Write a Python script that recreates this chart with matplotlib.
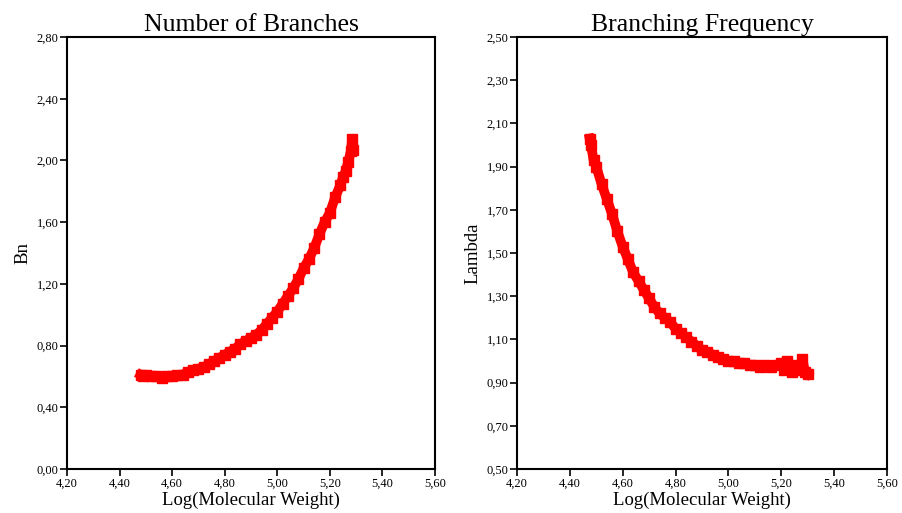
import matplotlib
matplotlib.use('Agg')
import matplotlib.pyplot as plt
from matplotlib.ticker import FuncFormatter, MultipleLocator

plt.rcParams['font.family'] = ['Liberation Serif', 'DejaVu Serif']

# Numero de ramas (Bn) vs Log(MW)
bn_x = [4.48, 4.49, 4.50, 4.52, 4.54, 4.56, 4.58, 4.60, 4.62, 4.64, 4.66, 4.68,
        4.70, 4.72, 4.74, 4.76, 4.78, 4.80, 4.82, 4.84, 4.86, 4.88, 4.90, 4.92,
        4.94, 4.96, 4.98, 5.00, 5.02, 5.04, 5.06, 5.08, 5.10, 5.12, 5.14, 5.16,
        5.18, 5.20, 5.22, 5.24, 5.25, 5.26, 5.27, 5.28, 5.285, 5.29]
bn_y = [0.61, 0.60, 0.61, 0.60, 0.60, 0.59, 0.60, 0.60, 0.61, 0.61, 0.63, 0.64,
        0.65, 0.66, 0.68, 0.70, 0.72, 0.74, 0.76, 0.78, 0.81, 0.83, 0.85, 0.87,
        0.90, 0.94, 0.98, 1.02, 1.07, 1.12, 1.17, 1.23, 1.30, 1.36, 1.43, 1.52,
        1.60, 1.66, 1.76, 1.84, 1.89, 1.93, 1.99, 2.06, 2.14, 2.07]

# Frecuencia de ramificacion (Lambda) vs Log(MW)
lam_x = [4.475, 4.48, 4.49, 4.50, 4.52, 4.54, 4.56, 4.58, 4.60, 4.62, 4.64, 4.66,
         4.68, 4.70, 4.72, 4.74, 4.76, 4.78, 4.80, 4.82, 4.84, 4.86, 4.88, 4.90,
         4.92, 4.94, 4.96, 4.98, 5.00, 5.02, 5.04, 5.06, 5.08, 5.10, 5.12, 5.14,
         5.16, 5.18, 5.20, 5.21, 5.22, 5.24, 5.26, 5.27, 5.28, 5.29, 5.30]
lam_y = [2.03, 2.00, 1.93, 1.90, 1.82, 1.75, 1.68, 1.60, 1.53, 1.47, 1.41, 1.37,
         1.33, 1.29, 1.25, 1.22, 1.20, 1.18, 1.15, 1.13, 1.11, 1.09, 1.07, 1.05,
         1.04, 1.03, 1.02, 1.01, 1.00, 1.00, 0.99, 0.99, 0.98, 0.98, 0.97, 0.98,
         0.97, 0.98, 0.99, 0.96, 1.00, 0.95, 0.98, 0.96, 1.01, 0.95, 0.94]

bn_ticks = [0.00, 0.40, 0.80, 1.20, 1.60, 2.00, 2.40, 2.80]
lam_ticks = [0.50, 0.70, 0.90, 1.10, 1.30, 1.50, 1.70, 1.90, 2.10, 2.30, 2.50]

coma = FuncFormatter(lambda v, p: f'{v:.2f}'.replace('.', ','))

fig = plt.figure(figsize=(9.03, 5.13), dpi=100)
ax1 = fig.add_axes([0.0742, 0.0858, 0.4075, 0.842])
ax2 = fig.add_axes([0.5725, 0.0858, 0.4097, 0.842])

paneles = [
    (ax1, bn_x, bn_y, 'Number of Branches', 'Bn', bn_ticks),
    (ax2, lam_x, lam_y, 'Branching Frequency', 'Lambda', lam_ticks),
]

for ax, x, y, titulo, ylab, yt in paneles:
    ax.plot(x, y, color='#ff0000', linewidth=7, marker='s', markersize=7,
            solid_joinstyle='round')
    ax.set_xlim(4.2, 5.6)
    ax.set_ylim(yt[0], yt[-1])
    ax.set_yticks(yt)
    ax.xaxis.set_major_locator(MultipleLocator(0.2))
    ax.xaxis.set_major_formatter(coma)
    ax.yaxis.set_major_formatter(coma)
    ax.tick_params(direction='out', length=5, width=1.2, labelsize=9, pad=1)
    for s in ax.spines.values():
        s.set_linewidth(1.5)
    ax.set_title(titulo, fontsize=18.5, pad=4)
    ax.set_xlabel('Log(Molecular Weight)', fontsize=13.5, labelpad=2)
    ax.set_ylabel(ylab, fontsize=13.5, labelpad=4)

fig.savefig('out.png', dpi=100)
